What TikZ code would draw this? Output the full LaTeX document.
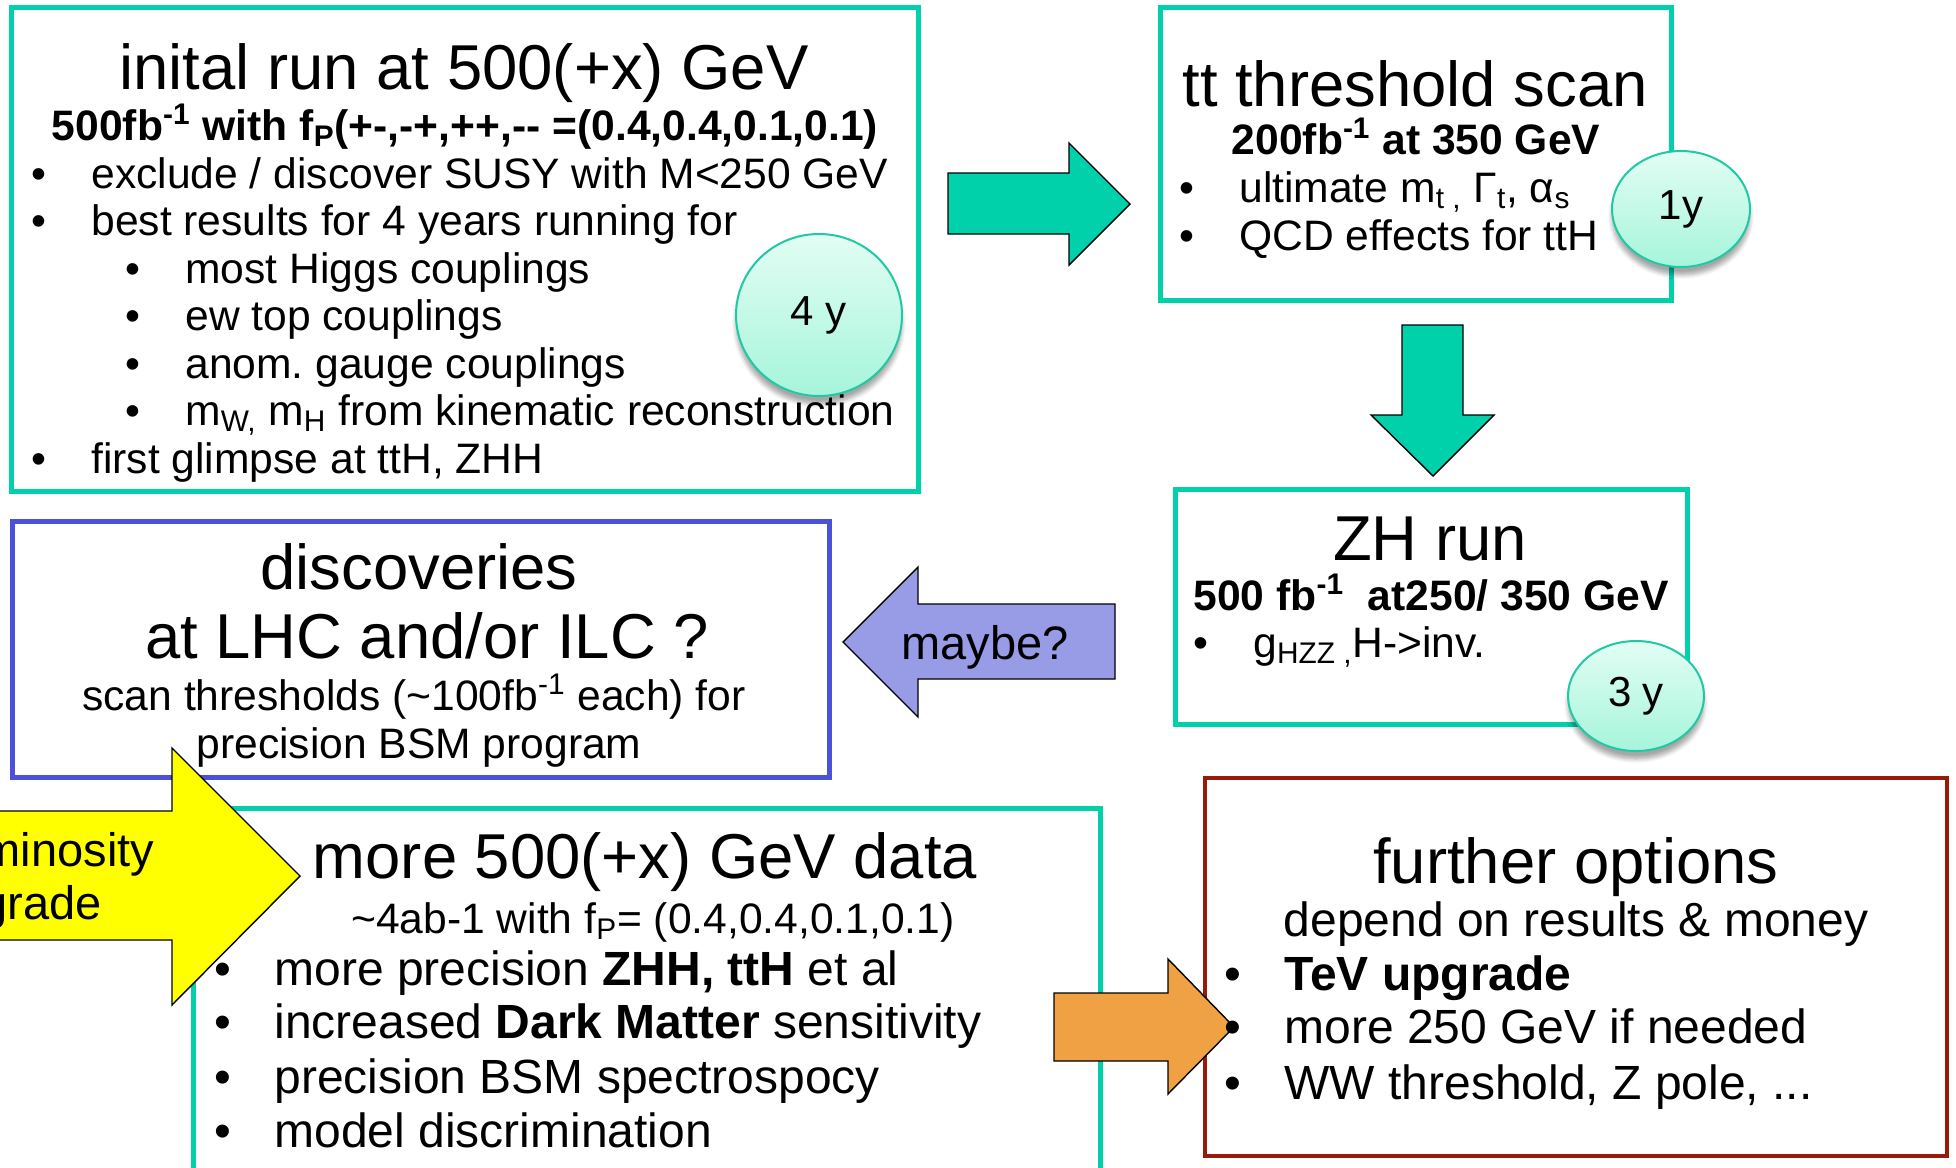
\documentclass[tikz,border=0pt]{standalone}
\usepackage{fontspec}
\setmainfont{Liberation Sans}
\usepackage{xcolor}
\usepackage{tikz}
\usetikzlibrary{shapes.geometric,shadows.blur}
\definecolor{mint}     {HTML}{00D1AB}
\definecolor{indigo}   {HTML}{4A52D9}
\definecolor{lavender} {HTML}{989BE6}
\definecolor{lemon}    {HTML}{FFFF00}
\definecolor{apricot}  {HTML}{F0A144}
\definecolor{brick}    {HTML}{981A0A}
\definecolor{bubtop}   {HTML}{E2FDF4}
\definecolor{bubbot}   {HTML}{A6F5DB}
\definecolor{bubline}  {HTML}{20C9A4}
\newcommand{\bul}{\makebox[26pt][l]{\hspace{-3.8pt}•}}
\tikzset{
  runbox/.style={draw=mint,line width=2.5pt},
  discbox/.style={draw=indigo,line width=2.5pt},
  optbox/.style={draw=brick,line width=2pt},
  blockarrow/.style={draw=black,line width=0.7pt,line join=miter},
  headline/.style={anchor=base,inner sep=0pt,font=\fontsize{31.7}{38}\selectfont},
  subline/.style={anchor=base,inner sep=0pt,font=\fontsize{21.3}{26}\selectfont\bfseries},
  plainline/.style={anchor=base,inner sep=0pt,font=\fontsize{21.3}{26}\selectfont},
  bigline/.style={anchor=base,inner sep=0pt,font=\fontsize{24}{29}\selectfont},
  bulletline/.style={anchor=base west,inner sep=0pt,font=\fontsize{21.3}{26}\selectfont},
  bigbullet/.style={anchor=base west,inner sep=0pt,font=\fontsize{24}{29}\selectfont},
  arrowtext/.style={inner sep=0pt,font=\fontsize{23.5}{28}\selectfont},
  bubble/.style={ellipse,draw=bubline,line width=1pt,top color=bubtop,bottom color=bubbot,
    inner sep=0pt,font=\fontsize{21}{25}\selectfont,
    blur shadow={shadow xshift=0pt,shadow yshift=-4pt,shadow blur steps=6,shadow opacity=35}},
}
\begin{document}
\begin{tikzpicture}[x=0.5pt,y=-0.5pt]
\useasboundingbox (0,0) rectangle (1956,1168);
\draw[runbox] (11,7) rectangle (918,491);
\draw[runbox] (1160,7) rectangle (1671,300);
\draw[runbox] (1175,489) rectangle (1687,724);
\draw[discbox] (12,521) rectangle (829,777);
\draw[runbox] (193,808) rectangle (1100,1200);
\draw[optbox] (1205,778) rectangle (1947,1156);
\draw[blockarrow,fill=mint] (948,173) -- (1069,173) -- (1069,143) -- (1130,204) -- (1069,265) -- (1069,234) -- (948,234) -- cycle;
\draw[blockarrow,fill=mint] (1402,325) -- (1463,325) -- (1463,415) -- (1494,415) -- (1433,476) -- (1371,415) -- (1402,415) -- cycle;
\draw[blockarrow,fill=lavender] (1115,604) -- (918,604) -- (918,567) -- (843,642) -- (918,717) -- (918,679) -- (1115,679) -- cycle;
\draw[blockarrow,fill=lemon] (-20,811) -- (172,811) -- (172,748) -- (300,876) -- (172,1005) -- (172,940) -- (-20,940) -- cycle;
\draw[blockarrow,fill=apricot] (1054,993) -- (1168,993) -- (1168,959) -- (1234,1027) -- (1168,1094) -- (1168,1061) -- (1054,1061) -- cycle;
\node[headline] (inittitle) at (464,89) {inital run at 500(+x) GeV};
\node[subline] (initsub) at (465,140) {500fb\textsuperscript{-1} with f\textsubscript{P}(+-,-+,++,-{}- =(0.4,0.4,0.1,0.1)};
\node[bulletline] (initA) at (39,188) {\bul exclude / discover SUSY with M<250 GeV};
\node[bulletline] (initB) at (39,235.5) {\bul best results for 4 years running for};
\node[bulletline] (initB1) at (133,283) {\bul most Higgs couplings};
\node[bulletline] (initB2) at (133,330.5) {\bul ew top couplings};
\node[bulletline] (initB3) at (133,378) {\bul anom.\ gauge couplings};
\node[bulletline] (initB4) at (133,425.5) {\bul m\textsubscript{W,} m\textsubscript{H} from kinematic reconstruction};
\node[bulletline] (initC) at (39,473) {\bul first glimpse at ttH, ZHH};
\node[headline] (tttitle) at (1415,106) {tt threshold scan};
\node[subline] (ttsub) at (1416,154) {200fb\textsuperscript{-1} at 350 GeV};
\node[bulletline] (ttA) at (1187,202) {\bul ultimate m\textsubscript{t ,} Γ\textsubscript{t}, α\textsubscript{s}};
\node[bulletline] (ttB) at (1187,250) {\bul QCD effects for ttH};
\node[headline] (zhtitle) at (1430,560) {ZH run};
\node[subline] (zhsub) at (1431,610) {500 fb\textsuperscript{-1}\ \ at250/ 350 GeV};
\node[bulletline] (zhA) at (1201,657) {\bul g\textsubscript{HZZ ,}H->inv.};
\node[headline] (disctitle) at (419,589) {discoveries};
\node[headline] (disctitleb) at (427,658) {at LHC and/or ILC ?};
\node[plainline] (discsub) at (414,710) {scan thresholds (\textasciitilde100fb\textsuperscript{-1} each) for};
\node[plainline] (discsubb) at (419,758) {precision BSM program};
\node[arrowtext,anchor=base] (maybe) at (985,659) {maybe?};
\node[arrowtext,anchor=base west] (lumi) at (-71,866) {Luminosity};
\node[arrowtext,anchor=base west] (upgr) at (-71,919) {upgrade};
\node[headline] (moretitle) at (645,878) {more 500(+x) GeV data};
\node[plainline] (moresub) at (653,933) {\textasciitilde4ab-1 with f\textsubscript{P}= (0.4,0.4,0.1,0.1)};
\node[bigbullet] (moreA) at (222,985) {\bul more precision \textbf{ZHH, ttH} et al};
\node[bigbullet] (moreB) at (222,1038) {\bul increased \textbf{Dark Matter} sensitivity};
\node[bigbullet] (moreC) at (222,1093) {\bul precision BSM spectrospocy};
\node[bigbullet] (moreD) at (222,1147) {\bul model discrimination};
\node[headline] (opttitle) at (1576,883) {further options};
\node[bigline] (optsub) at (1576,936) {depend on results \& money};
\node[bigbullet] (optA) at (1232,990) {\bul \textbf{TeV upgrade}};
\node[bigbullet] (optB) at (1232,1043) {\bul more 250 GeV if needed};
\node[bigbullet] (optC) at (1232,1099) {\bul WW threshold, Z pole, ...};
\node[bubble,minimum width=83pt,minimum height=81pt] (foury) at (819,315) {4 y};
\node[bubble,minimum width=69pt,minimum height=58pt] (oney) at (1681,209) {1y};
\node[bubble,minimum width=68pt,minimum height=55pt] (threey) at (1636,696) {3 y};
\end{tikzpicture}
\end{document}
